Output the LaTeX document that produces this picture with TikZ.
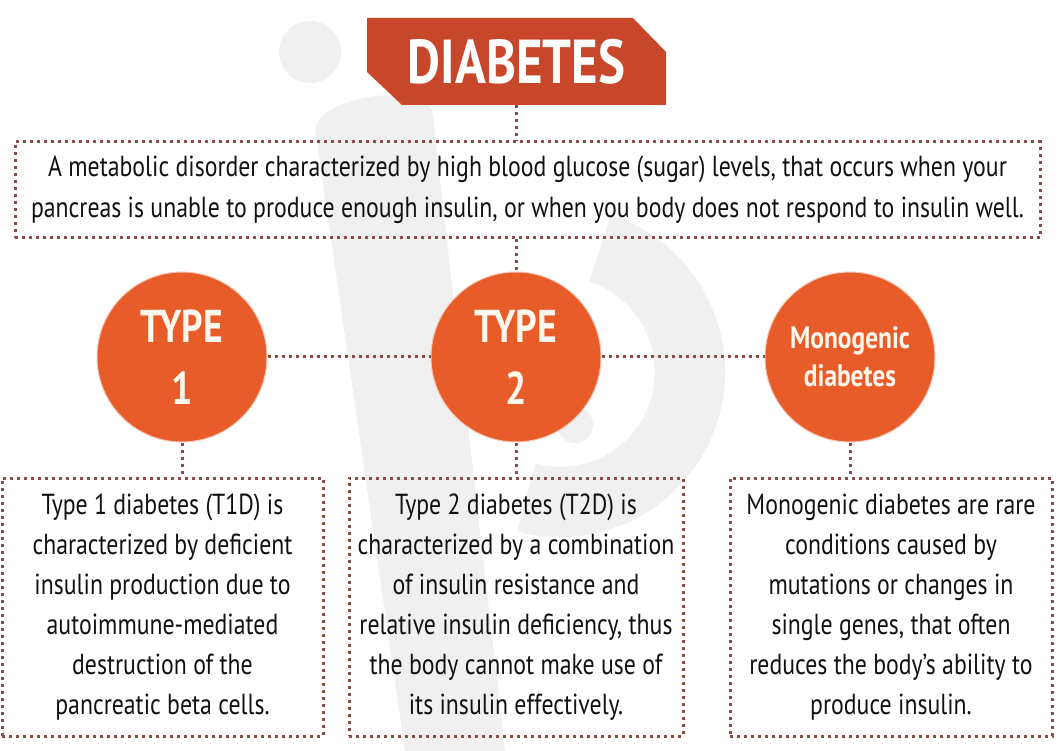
\documentclass[tikz,border=0pt]{standalone}
\usepackage{fontspec}
\newfontfamily\cond[FakeStretch=0.82]{PT Sans}
\definecolor{banner}{HTML}{C8472A}
\definecolor{orng}{HTML}{E85C2A}
\definecolor{dotc}{HTML}{8A4C45}
\definecolor{wm}{HTML}{F0F0F0}
\definecolor{ctext}{HTML}{FFF6EC}
\definecolor{body}{HTML}{111111}
\tikzset{
  dots/.style={draw=dotc, line width=3pt, dash pattern=on 3pt off 4pt},
  circ/.style={circle, fill=orng, draw=orng!35!white, line width=1pt, minimum size=170pt, inner sep=0pt, align=center, text=ctext, font=\cond\bfseries},
  infobox/.style={dots, rectangle, inner sep=0pt, align=center, text=body, font=\cond\fontsize{29}{40}\selectfont},
}
\begin{document}
\begin{tikzpicture}[x=1pt,y=-1pt]
\useasboundingbox (0,0) rectangle (1061,751);
\fill[white] (0,0) rectangle (1061,751);
% watermark figure
\fill[wm] (310,52) circle (31);
\fill[wm] (316,135) .. controls (308,100) and (410,80) .. (432,110) -- (505,751) -- (405,751) -- cycle;
\fill[wm] (560,372) ++(105:165) arc (105:-72:165) -- ++(108:70) arc (-72:105:95) -- cycle;
\fill[wm] (575,425) circle (18);
% title banner
\fill[banner] (367,18) -- (633,18) -- (666,52) -- (666,105) -- (402,105) -- (367,72) -- cycle;
\node[minimum width=299pt, minimum height=87pt, inner sep=0pt, text=white, font=\cond\bfseries\fontsize{62}{62}\selectfont] (title) at (516.5,61.5) {DIABETES};
% top definition box
\node[infobox, minimum width=1025pt, minimum height=96pt, font=\cond\fontsize{29}{41}\selectfont] (top) at (527.5,190)
  {A metabolic disorder characterized by high blood glucose (sugar) levels, that occurs when your\\
   pancreas is unable to produce enough insulin, or when you body does not respond to insulin well.};
% circles
\node[circ, font=\cond\bfseries\fontsize{46}{62}\selectfont] (c1) at (182,357) {TYPE\\1};
\node[circ, font=\cond\bfseries\fontsize{46}{62}\selectfont] (c2) at (516,357) {TYPE\\2};
\node[circ, font=\cond\bfseries\fontsize{31}{38}\selectfont] (c3) at (850,357) {Monogenic\\diabetes};
% bottom boxes
\node[infobox, minimum width=321pt, minimum height=258pt] (b1) at (162.5,607)
  {Type 1 diabetes (T1D) is\\characterized by deficient\\insulin production due to\\autoimmune-mediated\\destruction of the\\pancreatic beta cells.};
\node[infobox, minimum width=334pt, minimum height=258pt] (b2) at (516,607)
  {Type 2 diabetes (T2D) is\\characterized by a combination\\of insulin resistance and\\relative insulin deficiency, thus\\the body cannot make use of\\its insulin effectively.};
\node[infobox, minimum width=322pt, minimum height=258pt] (b3) at (891,607)
  {Monogenic diabetes are rare\\conditions caused by\\mutations or changes in\\single genes, that often\\reduces the body’s ability to\\produce insulin.};
% connectors
\draw[dots] (title.south) -- (title.south |- top.north);
\draw[dots] (c2.north |- top.south) -- (c2.north);
\draw[dots] (c1.east) -- (c2.west);
\draw[dots] (c2.east) -- (c3.west);
\draw[dots] (c1.south) -- (c1.south |- b1.north);
\draw[dots] (c2.south) -- (c2.south |- b2.north);
\draw[dots] (c3.south) -- (c3.south |- b3.north);
\end{tikzpicture}
\end{document}
